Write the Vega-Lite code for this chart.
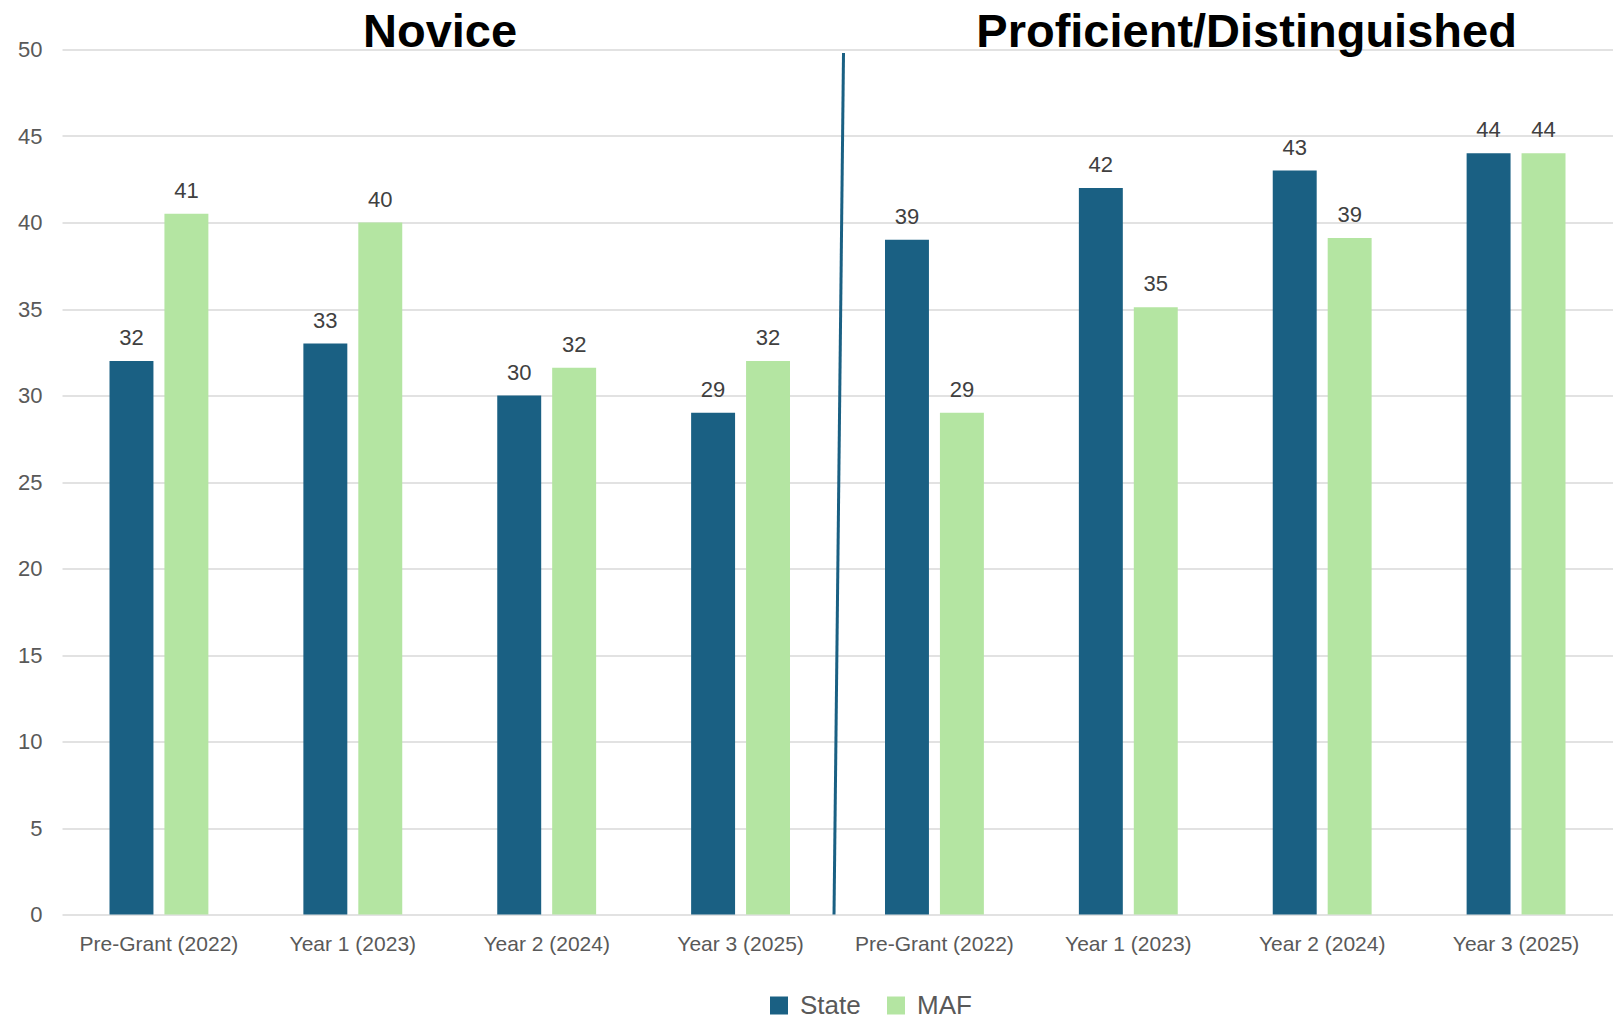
{
  "$schema": "https://vega.github.io/schema/vega-lite/v6.json",
  "width": 1551,
  "height": 865,
  "autosize": {"type": "none"},
  "padding": {"left": 62, "top": 49.5, "right": 0, "bottom": 104.5},
  "background": "white",
  "config": {
    "view": {"stroke": null},
    "font": "Liberation Sans"
  },
  "datasets": {
    "scores": [
      {"slot": "Novice: Pre-Grant (2022)", "series": "State", "value": 32},
      {"slot": "Novice: Pre-Grant (2022)", "series": "MAF", "value": 40.5},
      {"slot": "Novice: Year 1 (2023)", "series": "State", "value": 33},
      {"slot": "Novice: Year 1 (2023)", "series": "MAF", "value": 40},
      {"slot": "Novice: Year 2 (2024)", "series": "State", "value": 30},
      {"slot": "Novice: Year 2 (2024)", "series": "MAF", "value": 31.6},
      {"slot": "Novice: Year 3 (2025)", "series": "State", "value": 29},
      {"slot": "Novice: Year 3 (2025)", "series": "MAF", "value": 32},
      {"slot": "Proficient/Distinguished: Pre-Grant (2022)", "series": "State", "value": 39},
      {"slot": "Proficient/Distinguished: Pre-Grant (2022)", "series": "MAF", "value": 29},
      {"slot": "Proficient/Distinguished: Year 1 (2023)", "series": "State", "value": 42},
      {"slot": "Proficient/Distinguished: Year 1 (2023)", "series": "MAF", "value": 35.1},
      {"slot": "Proficient/Distinguished: Year 2 (2024)", "series": "State", "value": 43},
      {"slot": "Proficient/Distinguished: Year 2 (2024)", "series": "MAF", "value": 39.1},
      {"slot": "Proficient/Distinguished: Year 3 (2025)", "series": "State", "value": 44},
      {"slot": "Proficient/Distinguished: Year 3 (2025)", "series": "MAF", "value": 44}
    ],
    "headings": [
      {"heading": "Novice", "at": 1.95},
      {"heading": "Proficient/Distinguished", "at": 6.11}
    ],
    "divider": [
      {"at": 4.031, "score": 49.8},
      {"at": 3.982, "score": 0}
    ]
  },
  "layer": [
    {
      "data": {"name": "scores"},
      "encoding": {
        "x": {
          "field": "slot",
          "type": "nominal",
          "sort": null,
          "scale": {"paddingInner": 0.49, "paddingOuter": 0.245},
          "axis": {
            "title": null,
            "domain": false,
            "ticks": false,
            "labelAngle": 0,
            "labelFontSize": 21,
            "labelColor": "#595959",
            "labelPadding": 19,
            "labelExpr": "split(datum.label, ': ')[1]"
          }
        },
        "xOffset": {
          "field": "series",
          "type": "nominal",
          "sort": ["State", "MAF"],
          "scale": {"paddingInner": 0.2, "paddingOuter": 0}
        },
        "y": {
          "field": "value",
          "type": "quantitative",
          "scale": {"domain": [0, 50], "nice": false},
          "axis": {
            "title": null,
            "values": [0, 5, 10, 15, 20, 25, 30, 35, 40, 45, 50],
            "domain": false,
            "ticks": false,
            "gridColor": "#D9D9D9",
            "gridWidth": 1.5,
            "labelFontSize": 22,
            "labelColor": "#595959",
            "labelPadding": 20
          }
        }
      },
      "layer": [
        {
          "mark": {"type": "bar"},
          "encoding": {
            "color": {
              "field": "series",
              "type": "nominal",
              "scale": {"domain": ["State", "MAF"], "range": ["#1A6083", "#B4E5A2"]},
              "legend": {
                "title": null,
                "orient": "none",
                "legendX": 704,
                "legendY": 943,
                "direction": "horizontal",
                "symbolType": "square",
                "symbolSize": 324,
                "symbolStrokeWidth": 0,
                "labelFontSize": 26,
                "labelColor": "#595959",
                "labelOffset": 8,
                "columnPadding": 22
              }
            }
          }
        },
        {
          "mark": {"type": "text", "baseline": "alphabetic", "dy": -16, "fontSize": 22, "color": "#404040"},
          "encoding": {
            "text": {"field": "value", "type": "quantitative", "format": ".0f"}
          }
        }
      ]
    },
    {
      "data": {"name": "divider"},
      "mark": {"type": "line", "color": "#1A6083", "strokeWidth": 3},
      "encoding": {
        "x": {"field": "at", "type": "quantitative", "scale": {"domain": [0, 8], "nice": false, "zero": false}, "axis": null},
        "y": {"field": "score", "type": "quantitative"}
      }
    },
    {
      "data": {"name": "headings"},
      "mark": {"type": "text", "baseline": "alphabetic", "dy": -3, "fontSize": 47, "fontWeight": "bold", "color": "#000000"},
      "encoding": {
        "x": {"field": "at", "type": "quantitative", "scale": {"domain": [0, 8], "nice": false, "zero": false}, "axis": null},
        "y": {"datum": 50},
        "text": {"field": "heading"}
      }
    }
  ],
  "resolve": {"scale": {"x": "independent"}, "axis": {"x": "independent"}}
}
